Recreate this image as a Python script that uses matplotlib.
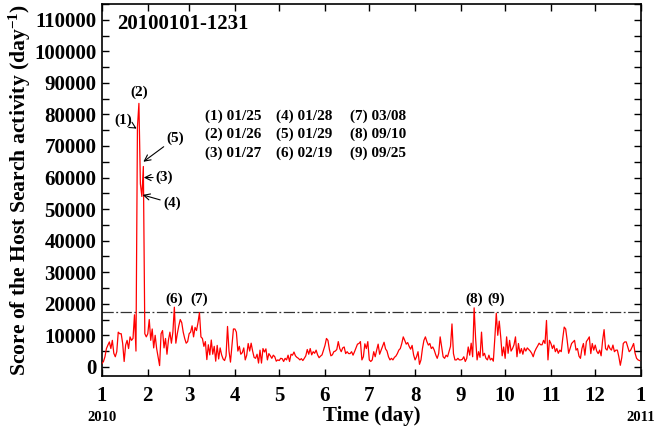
import matplotlib
matplotlib.use("Agg")
import matplotlib.pyplot as plt
import numpy as np

plt.rcParams['font.family'] = ['Liberation Serif', 'DejaVu Serif']
plt.rcParams['font.weight'] = 'bold'
plt.rcParams['mathtext.fontset'] = 'custom'
plt.rcParams['mathtext.rm'] = 'Liberation Serif:bold'
plt.rcParams['mathtext.bf'] = 'Liberation Serif:bold'
plt.rcParams['mathtext.it'] = 'Liberation Serif:bold'

# Daily score values, 2010-01-01 .. 2010-12-31
jan_mar = [1100, 1700, 3200, 5800, 6900, 7900, 5800, 8400, 4300, 3200,
           4800, 11000, 10500, 10500, 7400, 1700, 6900, 8400, 5800, 9500,
           8400, 9000, 16500, 5000, 76000, 83500, 58000, 54000, 63500, 10500,
           9500, 10500, 15000, 8400, 12000, 6000, 10000, 5800, 3000, 400,
           10500, 11500, 6000, 9000, 4000, 8500, 11000, 7500, 11000, 18900,
           7500, 10500, 13000, 15000, 14000, 11000, 9000, 7500, 8000, 10500,
           11000, 13000, 9500, 12500, 11500, 14000, 17200, 9500, 9000, 6500,
           8000, 2300, 7000, 3800, 8500, 4000, 6500, 1800, 6800, 2500,
           6000, 3800, 2500, 2000, 3500, 12800, 5000, 1500, 6800, 12000]
apr_jun = [12000, 11000, 5000, 6500, 4000, 4500, 6000, 2200, 3700, 7400,
           5000, 7500, 5000, 3000, 2700, 4000, 1200, 5300, 1200, 5800,
           4700, 5700, 2200, 4200, 3500, 2700, 3700, 3200, 1800, 2200,
           2000, 2700, 2600, 1700, 2700, 2200, 3700, 1700, 4000, 3700,
           4700, 3500, 3000, 2700, 2200, 2600, 2000, 2700, 3500, 5500,
           4000, 5800, 3800, 4800, 4300, 5300, 3800, 2900, 3400, 3800,
           5300, 6800, 9000, 8400, 5500, 3500, 3800, 4800, 5000, 5500,
           8000, 5800, 4800, 6000, 6300, 4200, 4800, 4200, 4200, 4800,
           3700, 4800, 6000, 7200, 7400, 8000, 2200, 3200, 7300, 5800,
           8000, 2200, 1700, 2200]
jul_sep = [4800, 3200, 5300, 7200, 4000, 5300, 6500, 7800, 5700, 5000,
           3200, 2200, 2700, 2200, 3000, 3400, 4200, 5300, 5800, 7400,
           9500, 8400, 7200, 7700, 6500, 5600, 6800, 3800, 2200, 3200,
           4800, 800, 2200, 5800, 8400, 9500, 8000, 6900, 7400, 5800,
           6300, 5300, 3800, 2700, 4200, 9500, 6300, 3200, 2700, 3700,
           3200, 4800, 6500, 13600, 4200, 2200, 2200, 2700, 2200, 2200,
           2400, 3200, 1700, 2700, 6300, 3700, 7500, 3200, 18700, 9000,
           2200, 4800, 3000, 11000, 3500, 4300, 2700, 2200, 3700, 2200,
           2700, 1800, 9000, 17000, 10000, 14500, 9500, 3500, 6300, 2700,
           9500, 4300]
oct_dec = [8400, 5000, 5800, 7000, 9500, 3200, 7400, 4300, 5800, 4000,
           6000, 5000, 6000, 5500, 5000, 4300, 3200, 4800, 5800, 6600,
           7500, 7000, 7000, 8400, 7400, 14700, 2200, 8400, 7400, 5800,
           6900, 4800, 5800, 4300, 5300, 4800, 9000, 12600, 12000, 8400,
           4300, 5800, 7400, 7900, 8400, 5300, 5800, 3400, 2700, 5800,
           7400, 3700, 8000, 8700, 9500, 4200, 7400, 5300, 6900, 5000,
           4200, 5300, 3500, 8400, 11800, 5800, 5300, 6900, 5800, 5300,
           6900, 4800, 5300, 5300, 3200, 500, 3000, 7400, 7900, 7900,
           6300, 4800, 5300, 6300, 7400, 4300, 2700, 2200, 2000]
scores = np.array(jan_mar + apr_jun + jul_sep + oct_dec, dtype=float)
days = np.arange(len(scores))

threshold = 17500
month_starts = [0, 31, 59, 90, 120, 151, 181, 212, 243, 273, 304, 334, 365]
month_labels = ['1', '2', '3', '4', '5', '6', '7', '8', '9', '10', '11', '12', '1']
title = '20100101-1231'
legend_rows = [['(1) 01/25', '(4) 01/28', '(7) 03/08'],
               ['(2) 01/26', '(5) 01/29', '(8) 09/10'],
               ['(3) 01/27', '(6) 02/19', '(9) 09/25']]
peak_label = ('(2)', 25)
threshold_events = [('(6)', 49), ('(7)', 66), ('(8)', 252), ('(9)', 267)]

fig = plt.figure(figsize=(6.72, 4.29), dpi=100)
ax = fig.add_axes([102/672, 53/429, 539/672, 372/429])

ax.plot(days, scores, color='#ff0000', lw=0.9, zorder=3)
ax.axhline(threshold, color='#333333', lw=0.9, ls=(0, (9, 2, 1.5, 2)), zorder=2)

ax.set_xlim(0, 365)
ax.set_ylim(-2900, 114800)
ax.set_xticks(month_starts)
ax.set_xticklabels(month_labels)
ax.set_yticks(np.arange(0, 110001, 10000))
ax.set_yticks(np.arange(0, 115001, 5000), minor=True)
ax.tick_params(axis='both', which='both', direction='in', top=True, right=True,
               width=1.0, labelsize=15)
ax.tick_params(axis='both', which='major', length=5)
ax.tick_params(axis='y', which='minor', length=5)
ax.tick_params(axis='y', which='major', pad=4)
ax.tick_params(axis='x', which='major', pad=7)
for s in ax.spines.values():
    s.set_linewidth(1.2)

ax.set_xlabel('Time (day)', fontsize=15, fontweight='bold', labelpad=0)
ax.set_ylabel(r'Score of the Host Search activity (day$^{-1}$)', fontsize=15.6,
              fontweight='bold', labelpad=1)

ax.text(0.028, 0.947, title, transform=ax.transAxes, fontsize=15,
        fontweight='bold', ha='left', va='center')

ax.text(0.0, -0.095, '2010', transform=ax.transAxes, fontsize=10.5,
        fontweight='bold', ha='center', va='top')
ax.text(1.0, -0.095, '2011', transform=ax.transAxes, fontsize=10.5,
        fontweight='bold', ha='center', va='top')

col_x = [0.192, 0.323, 0.46]
row_y = [0.699, 0.649, 0.600]
for r, row in enumerate(legend_rows):
    for c, txt in enumerate(row):
        ax.text(col_x[c], row_y[r], txt, transform=ax.transAxes, fontsize=11,
                fontweight='bold', ha='left', va='center')

lab, d = peak_label
ax.annotate(lab, xy=(d, scores[d]), xytext=(0, 3), textcoords='offset points',
            ha='center', va='bottom', fontsize=11, fontweight='bold')
for lab, d in threshold_events:
    ax.annotate(lab, xy=(d, threshold), xytext=(0, 4), textcoords='offset points',
                ha='center', va='bottom', fontsize=11, fontweight='bold')

arrow_kw = dict(arrowstyle='->', color='black', lw=0.8, shrinkA=0, shrinkB=0)
# (label, arrow target (day, value), text offset in points)
arrow_events = [('(1)', (23.5, 75500), (-10, 6)),
                ('(5)', (28.0, 65000), (23, 17)),
                ('(3)', (28.3, 60000), (15, 0)),
                ('(4)', (27.5, 54500), (21, -6))]
for lab, xy, off in arrow_events:
    ax.annotate(lab, xy=xy, xytext=off, textcoords='offset points',
                ha='center', va='center', fontsize=11, fontweight='bold',
                arrowprops=arrow_kw)

fig.savefig('out.png', dpi=100)
